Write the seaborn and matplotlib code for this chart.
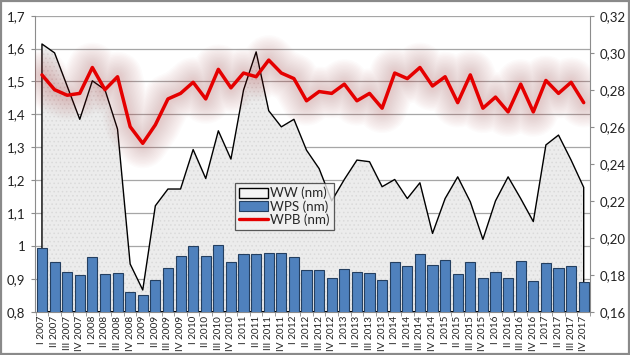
import numpy as np
import pandas as pd
import seaborn as sns
import matplotlib
matplotlib.use("Agg")
import matplotlib.pyplot as plt
from matplotlib.patches import Patch, Rectangle
from matplotlib.lines import Line2D

# quarters I 2007 .. IV 2017
roman = ["I", "II", "III", "IV"]
years = list(range(2007, 2018))
quarters = [f"{q} {y}" for y in years for q in roman]

# left axis (nm)
ww = [1.614, 1.587, 1.486, 1.385, 1.502, 1.475, 1.355, 0.945, 0.866, 1.122, 1.173,
      1.173, 1.293, 1.205, 1.350, 1.264, 1.474, 1.590, 1.411, 1.362, 1.385, 1.291,
      1.235, 1.137, 1.202, 1.261, 1.256, 1.180, 1.202, 1.144, 1.192, 1.038, 1.144,
      1.210, 1.134, 1.020, 1.137, 1.210, 1.144, 1.074, 1.307, 1.337, 1.261, 1.178]
wps = [0.994, 0.950, 0.921, 0.913, 0.965, 0.914, 0.917, 0.859, 0.850, 0.895, 0.934,
       0.969, 0.999, 0.969, 1.002, 0.951, 0.975, 0.975, 0.977, 0.977, 0.965, 0.927,
       0.927, 0.901, 0.929, 0.921, 0.917, 0.895, 0.950, 0.940, 0.974, 0.941, 0.958,
       0.914, 0.950, 0.903, 0.920, 0.902, 0.954, 0.893, 0.947, 0.932, 0.938, 0.889]
# right axis (nm)
wpb = [0.288, 0.280, 0.277, 0.278, 0.292, 0.280, 0.287, 0.260, 0.251, 0.261, 0.275,
       0.278, 0.284, 0.275, 0.291, 0.281, 0.289, 0.287, 0.296, 0.289, 0.286, 0.274,
       0.279, 0.278, 0.283, 0.274, 0.278, 0.270, 0.289, 0.286, 0.292, 0.282, 0.287,
       0.273, 0.288, 0.270, 0.276, 0.268, 0.283, 0.268, 0.285, 0.278, 0.284, 0.273]

left_ticks = [0.8, 0.9, 1.0, 1.1, 1.2, 1.3, 1.4, 1.5, 1.6, 1.7]
left_labels = ["0,8", "0,9", "1", "1,1", "1,2", "1,3", "1,4", "1,5", "1,6", "1,7"]
right_ticks = [0.16, 0.18, 0.20, 0.22, 0.24, 0.26, 0.28, 0.30, 0.32]
right_labels = ["0,16", "0,18", "0,20", "0,22", "0,24", "0,26", "0,28", "0,30", "0,32"]

df = pd.DataFrame({"quarter": quarters, "pos": np.arange(len(quarters)),
                   "ww": ww, "wps": wps, "wpb": wpb})

sns.set_style("white")
plt.rcParams["font.family"] = ["Lato", "DejaVu Sans"]
plt.rcParams["hatch.linewidth"] = 0.6

fig = plt.figure(figsize=(6.3, 3.55), dpi=100)
ax = fig.add_axes([0.0556, 0.122, 0.8809, 0.8338])

grid_c = "#a6a6a6"
ax.set_axisbelow(True)
ax.yaxis.grid(True, color=grid_c, linewidth=0.9)

# WW area
ax.fill_between(df["pos"], df["ww"], 0.8, facecolor="#ececec", hatch="....",
                edgecolor="#dadada", linewidth=0, zorder=1)
ax.fill_between(df["pos"], df["ww"], 0.8, facecolor="none", edgecolor="black",
                linewidth=1.0, zorder=2)

# WPS bars
sns.barplot(data=df, x="pos", y="wps", ax=ax, color="#4f81bd", saturation=1,
            width=0.8, edgecolor="#243f60", linewidth=0.8, native_scale=True,
            zorder=3)

ax.set_xlim(-0.55, 43.5)
ax.set_ylim(0.8, 1.7)
ax.set_yticks(left_ticks)
ax.set_yticklabels(left_labels, fontsize=9.5)
ax.set_xticks(df["pos"])
ax.set_xticklabels(quarters, rotation=90, fontsize=7.2)
ax.set_xticks(np.arange(-0.5, 43.6, 1), minor=True)
ax.tick_params(axis="x", which="major", length=0, pad=3, colors="#222222")
ax.tick_params(axis="x", which="minor", length=3, color="#8c8c8c", bottom=True)
ax.tick_params(axis="y", length=3, color="#8c8c8c", left=True, pad=4,
               labelcolor="#222222")
ax.set_xlabel("")
ax.set_ylabel("")
for s in ["left", "bottom"]:
    ax.spines[s].set_color("#8c8c8c")
ax.spines["top"].set_visible(False)
ax.spines["right"].set_visible(False)

# WPB line on secondary axis with soft glow
ax2 = ax.twinx()
for lw in range(36, 4, -2):
    ax2.plot(df["pos"], df["wpb"], color="#a83030", linewidth=lw, alpha=0.017,
             solid_capstyle="round", solid_joinstyle="round", zorder=4)
sns.lineplot(data=df, x="pos", y="wpb", ax=ax2, color="#e50000", linewidth=2.5,
             zorder=5)
ax2.set_ylim(0.16, 0.32)
ax2.set_yticks(right_ticks)
ax2.set_yticklabels(right_labels, fontsize=9.5)
ax2.tick_params(axis="y", length=3, color="#8c8c8c", right=True, pad=4,
                labelcolor="#222222")
ax2.set_ylabel("")
ax2.set_xlabel("")
ax2.spines["right"].set_color("#8c8c8c")
for s in ["left", "top", "bottom"]:
    ax2.spines[s].set_visible(False)

handles = [Patch(facecolor="#f4f4f4", edgecolor="black", linewidth=1.0),
           Patch(facecolor="#4f81bd", edgecolor="#243f60", linewidth=0.8),
           Line2D([0], [0], color="#e50000", linewidth=2.4)]
leg = ax2.legend(handles, ["WW (nm)", "WPS (nm)", "WPB (nm)"],
                 loc="upper left", bbox_to_anchor=(0.360, 0.435),
                 borderaxespad=0, fontsize=9.6, frameon=True, fancybox=False,
                 handlelength=2.2, handleheight=0.8, handletextpad=0.15,
                 labelspacing=0.05, borderpad=0.3)
leg.get_frame().set_edgecolor("#333333")
leg.get_frame().set_facecolor("#f2f2f2")
leg.get_frame().set_linewidth(0.9)
leg.set_zorder(10)

# outer chart border
fig.patches.append(Rectangle((0.002, 0.003), 0.996, 0.994, transform=fig.transFigure,
                             fill=False, edgecolor="#8a8a8a", linewidth=1.6))

fig.savefig("out.png", dpi=100)
